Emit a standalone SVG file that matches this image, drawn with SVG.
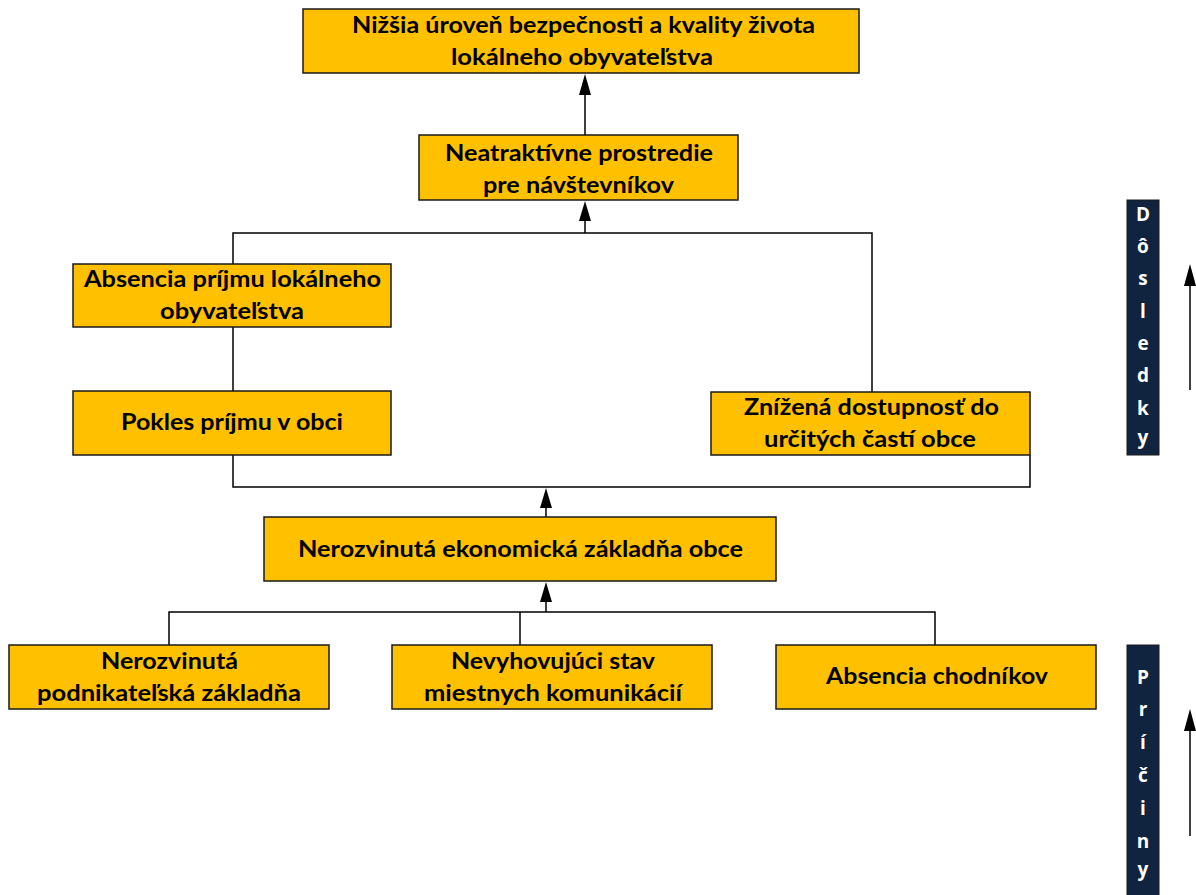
<svg xmlns="http://www.w3.org/2000/svg" width="1196" height="895" viewBox="0 0 1196 895">
<defs>
<style>
.box{fill:#FFC000;stroke:#1a1a1a;stroke-width:1.5}
.side{fill:#10233f;stroke:#1a1a1a;stroke-width:1}
.t{font-family:Lato,"Open Sans","Liberation Sans",sans-serif;font-weight:bold;font-size:22px;fill:#000;text-anchor:middle}
.s{font-family:"Open Sans","Liberation Sans",sans-serif;font-weight:bold;font-size:19px;fill:#fff;text-anchor:middle}
.c{fill:none;stroke:#000;stroke-width:1.5}
</style>
</defs>
<rect width="1196" height="895" fill="#fff"/>
<g id="connectors">
<path class="c" d="M585,135 V80"/>
<path class="c" d="M233,264 V233 H872 V392"/>
<path class="c" d="M585,233 V206"/>
<path class="c" d="M233,327 V391"/>
<path class="c" d="M233,455 V487 H1030 V455"/>
<path class="c" d="M546,517 V494"/>
<path class="c" d="M169,645 V612 H935 V645"/>
<path class="c" d="M520,612 V645"/>
<path class="c" d="M546,612 V588"/>
<path class="c" d="M1190,390 V272"/>
<path class="c" d="M1190,836 V717"/>
</g>
<g id="arrowheads" fill="#000">
<path d="M579,95 L585,74 L591,95 Z"/>
<path d="M579,221 L585,201 L591,221 Z"/>
<path d="M540,508 L546,488 L552,508 Z"/>
<path d="M540,602 L546,582 L552,602 Z"/>
<path d="M1184,286 L1190,264 L1196,286 Z"/>
<path d="M1184,731 L1190,709 L1196,731 Z"/>
</g>
<g id="n1"><rect class="box" x="303" y="9" width="556" height="64"/>
<text class="t" x="583.5" y="33" textLength="463" lengthAdjust="spacingAndGlyphs">Nižšia úroveň bezpečnosti a kvality života</text>
<text class="t" x="582" y="65" textLength="262" lengthAdjust="spacingAndGlyphs">lokálneho obyvateľstva</text></g>
<g id="n2"><rect class="box" x="419" y="135" width="319" height="65"/>
<text class="t" x="579" y="161" textLength="268" lengthAdjust="spacingAndGlyphs">Neatraktívne prostredie</text>
<text class="t" x="578.5" y="193" textLength="191" lengthAdjust="spacingAndGlyphs">pre návštevníkov</text></g>
<g id="n3"><rect class="box" x="73" y="264" width="318" height="63"/>
<text class="t" x="232.5" y="287" textLength="297" lengthAdjust="spacingAndGlyphs">Absencia príjmu lokálneho</text>
<text class="t" x="232" y="319" textLength="144" lengthAdjust="spacingAndGlyphs">obyvateľstva</text></g>
<g id="n4"><rect class="box" x="73" y="391" width="318" height="64"/>
<text class="t" x="232" y="430" textLength="222" lengthAdjust="spacingAndGlyphs">Pokles príjmu v obci</text></g>
<g id="n5"><rect class="box" x="711" y="392" width="319" height="63"/>
<text class="t" x="871.5" y="415" textLength="255" lengthAdjust="spacingAndGlyphs">Znížená dostupnosť do</text>
<text class="t" x="870" y="447" textLength="212" lengthAdjust="spacingAndGlyphs">určitých častí obce</text></g>
<g id="n6"><rect class="box" x="264" y="517" width="512" height="64"/>
<text class="t" x="520.5" y="557" textLength="445" lengthAdjust="spacingAndGlyphs">Nerozvinutá ekonomická základňa obce</text></g>
<g id="n7"><rect class="box" x="9" y="645" width="320" height="64"/>
<text class="t" x="169.5" y="669" textLength="137" lengthAdjust="spacingAndGlyphs">Nerozvinutá</text>
<text class="t" x="169" y="701" textLength="264" lengthAdjust="spacingAndGlyphs">podnikateľská základňa</text></g>
<g id="n8"><rect class="box" x="392" y="645" width="320" height="64"/>
<text class="t" x="553" y="669" textLength="204" lengthAdjust="spacingAndGlyphs">Nevyhovujúci stav</text>
<text class="t" x="553" y="701" textLength="258" lengthAdjust="spacingAndGlyphs">miestnych komunikácií</text></g>
<g id="n9"><rect class="box" x="776" y="645" width="320" height="64"/>
<text class="t" x="937" y="684" textLength="222" lengthAdjust="spacingAndGlyphs">Absencia chodníkov</text></g>
<g id="dosledky"><rect class="side" x="1127" y="200" width="32" height="255"/>
<text class="s" x="1143" y="221">D</text>
<text class="s" x="1143" y="253">ô</text>
<text class="s" x="1143" y="285">s</text>
<text class="s" x="1143" y="318">l</text>
<text class="s" x="1143" y="350">e</text>
<text class="s" x="1143" y="382">d</text>
<text class="s" x="1143" y="415">k</text>
<text class="s" x="1143" y="444">y</text></g>
<g id="priciny"><rect class="side" x="1127" y="645" width="32" height="251"/>
<text class="s" x="1143" y="684">P</text>
<text class="s" x="1143" y="716">r</text>
<text class="s" x="1143" y="749">í</text>
<text class="s" x="1143" y="782">č</text>
<text class="s" x="1143" y="815">i</text>
<text class="s" x="1143" y="848">n</text>
<text class="s" x="1143" y="876">y</text></g>
</svg>
